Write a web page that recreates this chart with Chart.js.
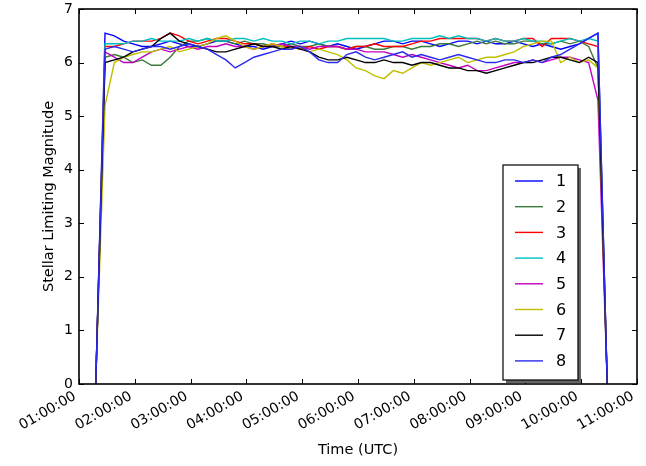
<!DOCTYPE html>
<html>
<head>
<meta charset="utf-8">
<script src="https://cdn.jsdelivr.net/npm/chart.js@4"></script>
<style>
  html, body { margin: 0; padding: 0; background: #fff; }
  #wrap { width: 646px; height: 466px; }
</style>
</head>
<body>
<div id="wrap"><canvas id="myChart" width="646" height="466"></canvas></div>
<script>
// sample times (UTC), 10 min apart
const times = [
  "01:18", "01:28", "01:38", "01:48", "01:58",
  "02:08", "02:18", "02:28", "02:38", "02:48", "02:58",
  "03:08", "03:18", "03:28", "03:38", "03:48", "03:58",
  "04:08", "04:18", "04:28", "04:38", "04:48", "04:58",
  "05:08", "05:18", "05:28", "05:38", "05:48", "05:58",
  "06:08", "06:18", "06:28", "06:38", "06:48", "06:58",
  "07:08", "07:18", "07:28", "07:38", "07:48", "07:58",
  "08:08", "08:18", "08:28", "08:38", "08:48", "08:58",
  "09:08", "09:18", "09:28", "09:38", "09:48", "09:58",
  "10:08", "10:18", "10:28"
];

const labels = ["1", "2", "3", "4", "5", "6", "7", "8"];
const colors = ["#0000ff", "#3a7a3a", "#ff0000", "#00bfbf", "#bf00bf", "#bfbf00", "#000000", "#2a2aee"];

const s1 = [0,
  6.55, 6.5, 6.4, 6.35, 6.3, 6.3, 6.35, 6.4, 6.35, 6.3,
  6.3, 6.35, 6.4, 6.4, 6.35, 6.3, 6.3, 6.25, 6.3, 6.35,
  6.4, 6.35, 6.4, 6.35, 6.3, 6.35, 6.3, 6.25, 6.3, 6.35,
  6.4, 6.4, 6.35, 6.4, 6.4, 6.35, 6.3, 6.35, 6.4, 6.4,
  6.35, 6.4, 6.35, 6.35, 6.4, 6.35, 6.3, 6.35, 6.3, 6.25,
  6.3, 6.35, 6.45, 6.55,
  0];
const s2 = [0,
  6.1, 6.15, 6.1, 6.0, 6.05, 5.95, 5.95, 6.1, 6.3, 6.4,
  6.4, 6.45, 6.4, 6.4, 6.35, 6.4, 6.35, 6.35, 6.3, 6.3,
  6.35, 6.3, 6.3, 6.35, 6.3, 6.3, 6.25, 6.3, 6.3, 6.25,
  6.25, 6.3, 6.3, 6.25, 6.3, 6.3, 6.35, 6.35, 6.3, 6.35,
  6.4, 6.35, 6.4, 6.35, 6.35, 6.4, 6.4, 6.35, 6.35, 6.4,
  6.35, 6.4, 6.3, 5.9,
  0];
const s3 = [0,
  6.3, 6.3, 6.35, 6.4, 6.4, 6.4, 6.45, 6.55, 6.5, 6.4,
  6.35, 6.4, 6.45, 6.45, 6.4, 6.35, 6.35, 6.3, 6.35, 6.3,
  6.3, 6.25, 6.3, 6.25, 6.3, 6.3, 6.25, 6.3, 6.3, 6.35,
  6.3, 6.3, 6.3, 6.35, 6.4, 6.4, 6.45, 6.45, 6.45, 6.45,
  6.45, 6.4, 6.45, 6.4, 6.4, 6.45, 6.45, 6.3, 6.45, 6.45,
  6.45, 6.4, 6.35, 6.3,
  0];
const s4 = [0,
  6.35, 6.35, 6.35, 6.4, 6.4, 6.45, 6.4, 6.4, 6.4, 6.45,
  6.4, 6.45, 6.4, 6.4, 6.45, 6.45, 6.4, 6.45, 6.4, 6.4,
  6.35, 6.4, 6.4, 6.35, 6.4, 6.4, 6.45, 6.45, 6.45, 6.45,
  6.45, 6.4, 6.4, 6.45, 6.45, 6.45, 6.5, 6.45, 6.5, 6.45,
  6.45, 6.4, 6.45, 6.4, 6.4, 6.45, 6.4, 6.4, 6.35, 6.4,
  6.45, 6.4, 6.45, 6.4,
  0];
const s5 = [0,
  6.2, 6.1, 6.0, 6.0, 6.1, 6.2, 6.25, 6.2, 6.25, 6.3,
  6.25, 6.3, 6.3, 6.35, 6.3, 6.3, 6.25, 6.3, 6.3, 6.35,
  6.3, 6.3, 6.25, 6.3, 6.3, 6.3, 6.25, 6.25, 6.2, 6.2,
  6.2, 6.15, 6.1, 6.15, 6.1, 6.05, 6.0, 5.95, 5.9, 5.95,
  5.85, 5.85, 5.9, 5.95, 6.0, 6.0, 6.05, 6.0, 6.05, 6.1,
  6.1, 6.05, 6.0, 5.3,
  0];
const s6 = [0,
  5.2, 6.0, 6.1, 6.15, 6.2, 6.2, 6.25, 6.3, 6.2, 6.25,
  6.3, 6.35, 6.45, 6.5, 6.4, 6.3, 6.25, 6.3, 6.35, 6.3,
  6.25, 6.3, 6.2, 6.25, 6.2, 6.15, 6.05, 5.9, 5.85, 5.75,
  5.7, 5.85, 5.8, 5.9, 6.0, 5.95, 6.0, 6.05, 6.1, 6.0,
  6.05, 6.1, 6.1, 6.15, 6.2, 6.3, 6.35, 6.4, 6.4, 6.0,
  6.1, 6.0, 6.05, 5.9,
  0];
const s7 = [0,
  6.0, 6.05, 6.1, 6.2, 6.25, 6.3, 6.45, 6.55, 6.4, 6.35,
  6.3, 6.25, 6.2, 6.2, 6.25, 6.3, 6.35, 6.3, 6.3, 6.25,
  6.3, 6.25, 6.2, 6.1, 6.05, 6.05, 6.1, 6.05, 6.0, 6.0,
  6.05, 6.0, 6.0, 5.95, 6.0, 6.0, 5.95, 5.9, 5.9, 5.85,
  5.85, 5.8, 5.85, 5.9, 5.95, 6.0, 6.0, 6.05, 6.1, 6.1,
  6.05, 6.0, 6.1, 6.0,
  0];
const s8 = [0,
  6.25, 6.3, 6.25, 6.2, 6.25, 6.3, 6.3, 6.25, 6.3, 6.35,
  6.3, 6.25, 6.15, 6.05, 5.9, 6.0, 6.1, 6.15, 6.2, 6.25,
  6.25, 6.3, 6.2, 6.05, 6.0, 6.0, 6.15, 6.2, 6.1, 6.05,
  6.1, 6.15, 6.2, 6.1, 6.15, 6.1, 6.05, 6.1, 6.15, 6.1,
  6.05, 6.0, 6.0, 6.05, 6.05, 6.0, 6.05, 6.0, 6.1, 6.15,
  6.25, 6.35, 6.45, 6.55,
  0];
const seriesValues = [s1, s2, s3, s4, s5, s6, s7, s8];

const FONT = "'DejaVu Sans', sans-serif";

const toHours = (t) => {
  const [h, m] = t.split(":").map(Number);
  return h + m / 60;
};

const datasets = seriesValues.map((vals, i) => ({
  label: labels[i],
  data: vals.map((v, j) => ({ x: toHours(times[j]), y: v })),
  borderColor: colors[i],
  backgroundColor: colors[i],
  borderWidth: 1.4,
  pointRadius: 0,
  tension: 0,
  order: 7 - i,
}));

// box + inward ticks + legend, matplotlib style
const framePlugin = {
  id: "frame",
  afterDatasetsDraw(chart) {
    const { ctx, chartArea: a, scales: { x, y } } = chart;
    ctx.save();
    ctx.strokeStyle = "#000";
    ctx.lineWidth = 1;
    ctx.beginPath();
    x.ticks.forEach((t) => {
      const px = Math.round(x.getPixelForValue(t.value)) + 0.5;
      ctx.moveTo(px, a.bottom); ctx.lineTo(px, a.bottom - 5);
      ctx.moveTo(px, a.top); ctx.lineTo(px, a.top + 5);
    });
    y.ticks.forEach((t) => {
      const py = Math.round(y.getPixelForValue(t.value)) + 0.5;
      ctx.moveTo(a.left, py); ctx.lineTo(a.left + 5, py);
      ctx.moveTo(a.right, py); ctx.lineTo(a.right - 5, py);
    });
    ctx.stroke();
    ctx.lineWidth = 1.6;
    ctx.strokeRect(a.left, a.top, a.width, a.height);

    // legend
    const lx = 503, ly = 165, lw = 75, lh = 215;
    ctx.fillStyle = "#666";
    ctx.fillRect(lx + 3, ly + 3, lw, lh);
    ctx.fillStyle = "#fff";
    ctx.fillRect(lx, ly, lw, lh);
    ctx.lineWidth = 1.2;
    ctx.strokeStyle = "#000";
    ctx.strokeRect(lx, ly, lw, lh);
    ctx.font = "16px " + FONT;
    ctx.textBaseline = "middle";
    ctx.textAlign = "left";
    chart.data.datasets.forEach((ds, i) => {
      const ry = 181 + i * 25.7;
      ctx.strokeStyle = ds.borderColor;
      ctx.lineWidth = 1.4;
      ctx.beginPath();
      ctx.moveTo(515, ry); ctx.lineTo(543, ry);
      ctx.stroke();
      ctx.fillStyle = "#000";
      ctx.fillText(ds.label, 556, ry + 1);
    });
    ctx.restore();
  },
};

const ctx = document.getElementById("myChart").getContext("2d");
const myChart = new Chart(ctx, {
  type: "line",
  data: { datasets },
  plugins: [framePlugin],
  options: {
    responsive: false,
    animation: false,
    layout: { padding: { left: 0, right: 9, top: 0, bottom: 0 } },
    plugins: { legend: { display: false }, tooltip: { enabled: false } },
    scales: {
      x: {
        type: "linear",
        min: 1,
        max: 11,
        afterFit: (s) => { s.height = 82; s.paddingRight = 0; s.paddingLeft = 0; },
        grid: { display: false, drawTicks: false },
        border: { display: false },
        ticks: {
          stepSize: 1,
          autoSkip: false,
          maxRotation: 30,
          minRotation: 30,
          padding: 4,
          labelOffset: -4,
          color: "#000",
          font: { family: FONT, size: 14 },
          callback: (v) => String(v).padStart(2, "0") + ":00:00",
        },
        title: {
          display: true,
          text: "Time (UTC)",
          color: "#000",
          font: { family: FONT, size: 14.5 },
          padding: { top: 0, bottom: 7 },
        },
      },
      y: {
        min: 0,
        max: 7,
        afterFit: (s) => { s.width = 79; s.paddingTop = 9; s.paddingBottom = 0; },
        grid: { display: false, drawTicks: false },
        border: { display: false },
        ticks: {
          stepSize: 1,
          padding: 6,
          color: "#000",
          font: { family: FONT, size: 14 },
        },
        title: {
          display: true,
          text: "Stellar Limiting Magnitude",
          color: "#000",
          font: { family: FONT, size: 14.5 },
          padding: { top: 41, bottom: 0 },
        },
      },
    },
  },
});
</script>
</body>
</html>
